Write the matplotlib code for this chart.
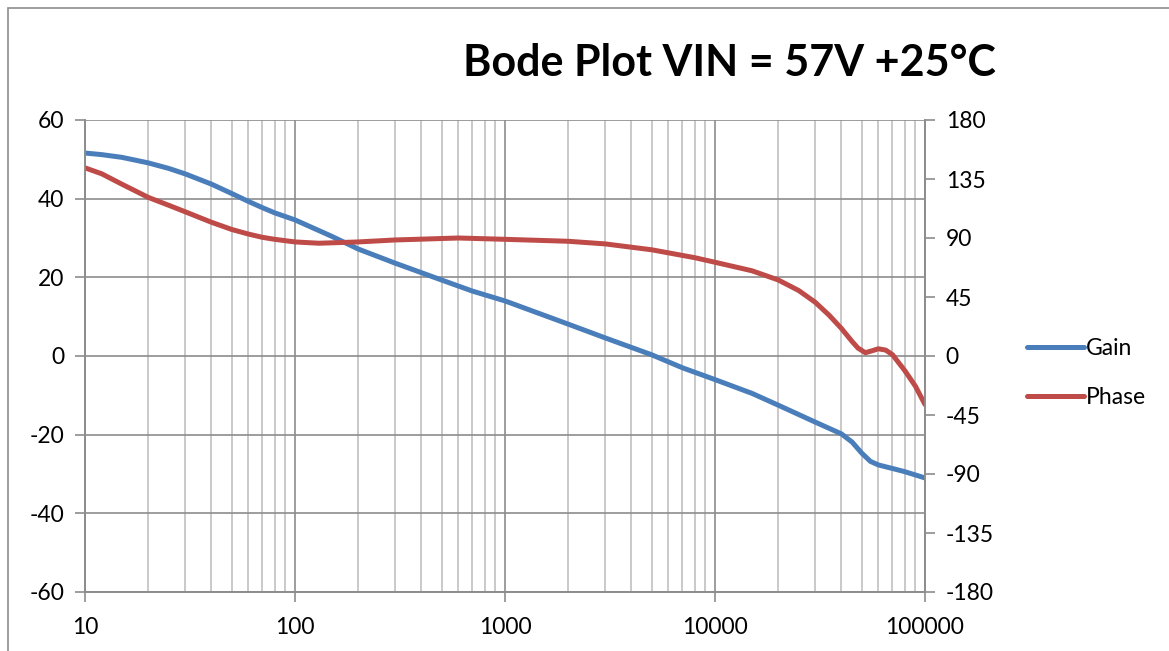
from matplotlib import pyplot as plt
from matplotlib.lines import Line2D
from matplotlib.patches import Rectangle
from matplotlib.ticker import FixedLocator, LogLocator, NullFormatter

# Gain (dB), left axis
GAIN_FREQ = [10, 12, 15, 20, 25, 30, 40, 50, 60, 70, 80, 100, 150, 200, 300, 500,
             700, 1000, 2000, 3000, 5000, 7000, 10000, 15000, 20000, 30000,
             40000, 45000, 50000, 55000, 60000, 70000, 80000, 100000]
GAIN = [51.6, 51.2, 50.5, 49.1, 47.7, 46.3, 43.7, 41.3, 39.3, 37.7, 36.4, 34.6,
        30.4, 27.2, 23.6, 19.3, 16.5, 14.0, 8.1, 4.6, 0.3, -3.0, -6.0, -9.5,
        -12.5, -16.8, -19.8, -21.9, -24.7, -26.8, -27.7, -28.6, -29.4, -31.0]

# Phase (deg), right axis
PHASE_FREQ = [10, 12, 15, 20, 25, 30, 40, 50, 60, 70, 80, 100, 130, 200, 300,
              600, 1000, 2000, 3000, 5000, 8000, 10000, 15000, 20000, 25000,
              30000, 35000, 40000, 45000, 48000, 52000, 56000, 60000, 65000,
              70000, 80000, 90000, 100000]
PHASE = [143.5, 139, 131, 121, 115, 110, 102, 96.5, 93, 90.5, 89, 87, 86, 87,
         88.5, 90, 89, 87.5, 85.5, 81, 75, 71.5, 65, 58, 50, 41, 31, 21, 11, 6,
         2.5, 4, 5.5, 4.5, 1, -11, -23, -37]

GAIN_TICKS = [-60, -40, -20, 0, 20, 40, 60]
PHASE_TICKS = [-180, -135, -90, -45, 0, 45, 90, 135, 180]
FREQ_TICKS = [10, 100, 1000, 10000, 100000]

BLUE = "#4a7ebb"
RED = "#be4b48"
FONT = "Lato"


def main():
    plt.rcParams["axes.unicode_minus"] = False
    fig = plt.figure(figsize=(11.69, 6.51), dpi=100)
    fig.patches.append(Rectangle((8 / 1169, -0.1), 1.2, 1.1 - 8 / 651,
                                 transform=fig.transFigure, fill=False,
                                 edgecolor="#8c8c8c", lw=1.2))

    ax = fig.add_axes([85 / 1169, 1 - 592 / 651, 840 / 1169, 472 / 651])
    ax2 = ax.twinx()

    ax.plot(GAIN_FREQ, GAIN, color=BLUE, lw=3.6, solid_capstyle="round")
    ax2.plot(PHASE_FREQ, PHASE, color=RED, lw=3.6, solid_capstyle="round")

    ax.set_xscale("log")
    ax.set_xlim(10, 100000)
    ax.set_ylim(-60, 60)
    ax2.set_ylim(-180, 180)

    ax.xaxis.set_major_locator(FixedLocator(FREQ_TICKS))
    ax.set_xticklabels([str(f) for f in FREQ_TICKS])
    ax.xaxis.set_minor_locator(LogLocator(base=10, subs=range(2, 10)))
    ax.xaxis.set_minor_formatter(NullFormatter())
    ax.set_yticks(GAIN_TICKS)
    ax2.set_yticks(PHASE_TICKS)

    ax.grid(True, which="major", color="#8c8c8c", lw=1.2)
    ax.grid(True, which="minor", axis="x", color="#c0c0c0", lw=1.2)

    for a in (ax, ax2):
        a.spines["top"].set_visible(False)
        for s in ("left", "right", "bottom"):
            a.spines[s].set_color("#8c8c8c")
            a.spines[s].set_linewidth(1.2)
        a.tick_params(which="major", length=7, width=1.2, color="#8c8c8c",
                      labelsize=16.5, pad=8)
        a.tick_params(which="minor", length=0)
        for lbl in a.get_xticklabels() + a.get_yticklabels():
            lbl.set_fontfamily(FONT)
    ax.tick_params(axis="x", pad=11)

    fig.text(729 / 1169, 1 - 63 / 651, "Bode Plot VIN = 57V +25°C",
             ha="center", va="center", fontsize=31, fontweight="bold",
             fontfamily=FONT)

    handles = [Line2D([], [], color=BLUE, lw=3.6, solid_capstyle="round"),
               Line2D([], [], color=RED, lw=3.6, solid_capstyle="round")]
    fig.legend(handles, ["Gain", "Phase"], loc="center left",
               bbox_to_anchor=(1006 / 1169, 1 - 373 / 651), frameon=False,
               prop={"family": FONT, "size": 16.5}, handlelength=2.5,
               handletextpad=0.1, labelspacing=1.25)

    fig.savefig("out.png", dpi=100)


if __name__ == '__main__':
    main()
